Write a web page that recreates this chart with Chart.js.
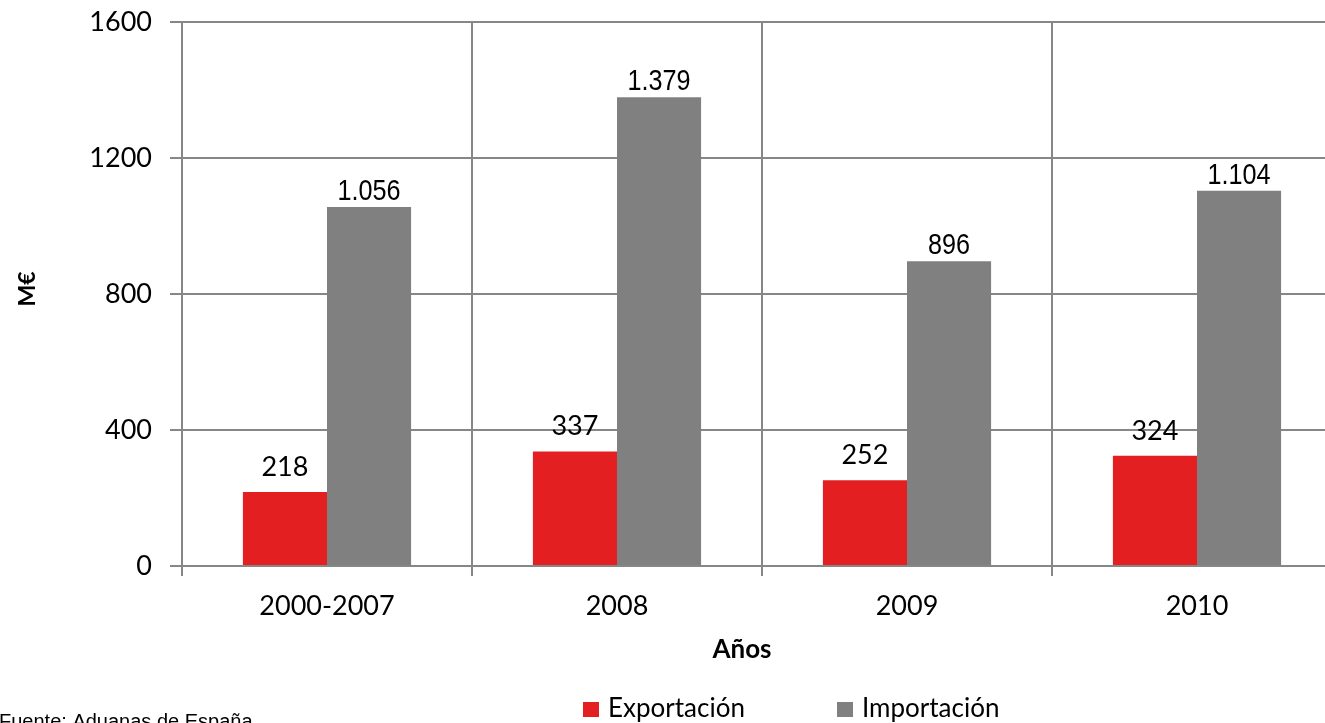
<!DOCTYPE html>
<html>
<head>
<meta charset="utf-8">
<script src="https://cdn.jsdelivr.net/npm/chart.js@4"></script>
<style>
  html, body { margin: 0; padding: 0; background: #fff; overflow: hidden; }
  #caja { position: relative; width: 1344px; height: 723px; }
</style>
</head>
<body>
<div id="caja"><canvas id="grafica" width="1344" height="723"></canvas></div>
<script>
const categorias = ["2000-2007", "2008", "2009", "2010"];
const exportacion = [218, 337, 252, 324];
const importacion = [1056, 1379, 896, 1104];
const ticksY = [0, 400, 800, 1200, 1600];
const series = ["Exportación", "Importación"];

const ROJO = "#E31F22";
const GRIS = "#808080";
const LINEA = "#878787";
const FUENTE = "Lato, 'Open Sans', sans-serif";

// formato español: 1.056
const formatoES = v => v >= 1000 ? Math.floor(v / 1000) + "." + String(v % 1000).padStart(3, "0") : String(v);

const pluginEtiquetas = {
  id: "etiquetasValores",
  afterDatasetsDraw(chart) {
    const { ctx } = chart;
    ctx.save();
    ctx.fillStyle = "#000";
    ctx.textAlign = "center";
    ctx.textBaseline = "alphabetic";
    chart.data.datasets.forEach((ds, i) => {
      chart.getDatasetMeta(i).data.forEach((barra, j) => {
        const texto = formatoES(ds.data[j]);
        if (i === 0) {
          ctx.font = "27px " + FUENTE;
          ctx.fillText(texto, barra.x, barra.y - 16);
        } else {
          // letra estrecha tipo Arial Narrow
          ctx.save();
          ctx.font = "30px 'Liberation Sans', Arial, sans-serif";
          ctx.translate(barra.x, barra.y - 7);
          ctx.scale(0.84, 1);
          ctx.fillText(texto, 0, 0);
          ctx.restore();
        }
      });
    });
    ctx.restore();
  }
};

const pluginTextos = {
  id: "textosExtra",
  afterDraw(chart) {
    const { ctx } = chart;
    ctx.save();
    ctx.fillStyle = "#000";

    // titulo eje X
    ctx.font = "bold 26px " + FUENTE;
    ctx.textAlign = "center";
    ctx.textBaseline = "middle";
    ctx.fillText("Años", 742, 650);

    // titulo eje Y
    ctx.save();
    ctx.translate(28, 289);
    ctx.rotate(-Math.PI / 2);
    ctx.font = "bold 23px " + FUENTE;
    ctx.fillText("M€", 0, 0);
    ctx.restore();

    // leyenda
    const items = [
      { texto: series[0], color: ROJO, x: 583 },
      { texto: series[1], color: GRIS, x: 837 }
    ];
    ctx.textAlign = "left";
    ctx.textBaseline = "alphabetic";
    ctx.font = "26px " + FUENTE;
    items.forEach(it => {
      ctx.fillStyle = it.color;
      ctx.fillRect(it.x, 702, 16, 15);
      ctx.fillStyle = "#000";
      ctx.fillText(it.texto, it.x + 25, 717);
    });

    // fuente
    ctx.font = "20px 'Liberation Sans', Arial, sans-serif";
    ctx.fillText("Fuente: Aduanas de España", -1, 728);
    ctx.restore();
  }
};

new Chart(document.getElementById("grafica"), {
  type: "bar",
  data: {
    labels: categorias,
    datasets: [
      { label: series[0], data: exportacion, backgroundColor: ROJO },
      { label: series[1], data: importacion, backgroundColor: GRIS }
    ]
  },
  options: {
    responsive: false,
    animation: false,
    layout: { padding: { top: 22, right: 2, bottom: 0, left: 0 } },
    datasets: { bar: { barPercentage: 1, categoryPercentage: 0.58 } },
    plugins: {
      legend: { display: false },
      tooltip: { enabled: false }
    },
    scales: {
      x: {
        afterFit: s => { s.height = 157; s.paddingLeft = 0; s.paddingRight = 0; },
        grid: { color: LINEA, lineWidth: 2, tickLength: 10, offset: true },
        border: { color: LINEA, width: 2 },
        ticks: { color: "#000", font: { family: FUENTE, size: 27 }, padding: 14 }
      },
      y: {
        min: ticksY[0],
        max: ticksY[ticksY.length - 1],
        afterFit: s => { s.width = 182; s.paddingTop = 0; s.paddingBottom = 0; },
        afterBuildTicks: s => { s.ticks = ticksY.map(v => ({ value: v })); },
        grid: { color: LINEA, lineWidth: 2, tickLength: 12 },
        border: { color: LINEA, width: 2 },
        ticks: { color: "#000", font: { family: FUENTE, size: 27 }, padding: 18, callback: v => String(v) }
      }
    }
  },
  plugins: [pluginEtiquetas, pluginTextos]
});
</script>
</body>
</html>
